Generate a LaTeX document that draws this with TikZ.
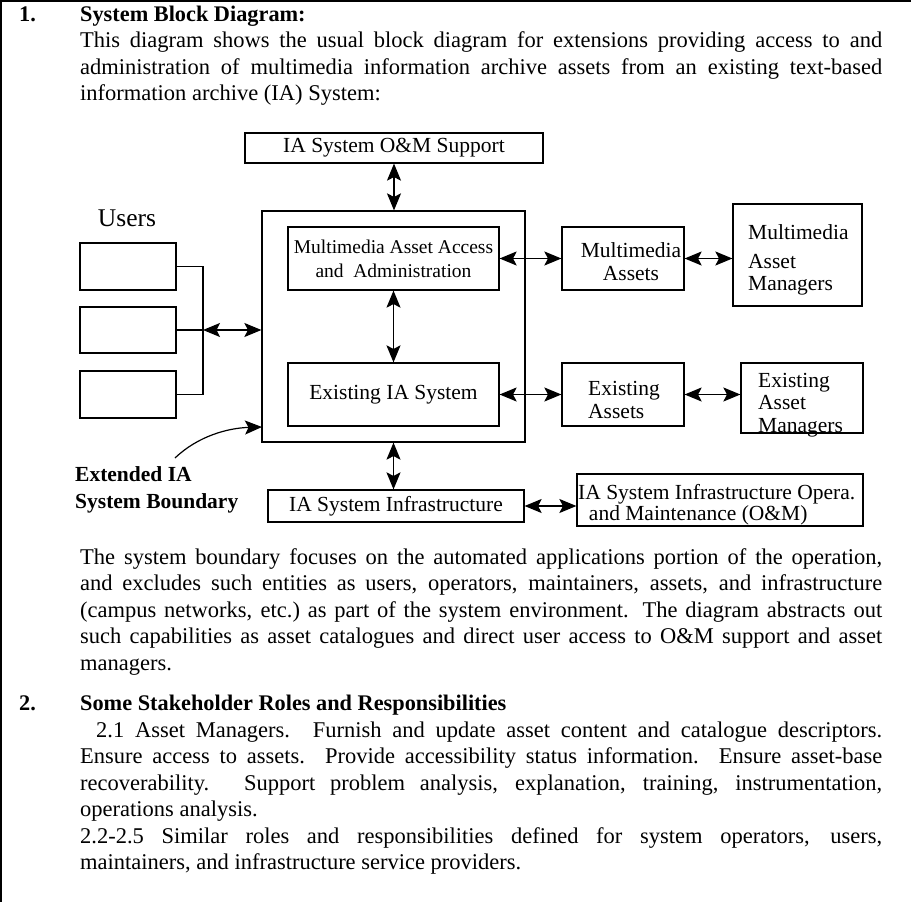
\documentclass[tikz,border=0pt]{standalone}
\usepackage{fontspec}
\setmainfont{Liberation Serif}
\usetikzlibrary{arrows.meta}
\setlength{\parindent}{0pt}
\begin{document}
\begin{tikzpicture}[x=1pt,y=-1pt,
  box/.style={draw, line width=1.2pt, inner sep=0pt, font=\fontsize{21.5}{23}\selectfont},
  lbl/.style={inner sep=0pt, font=\fontsize{21.5}{23}\selectfont},
  dbl/.style={line width=1.2pt, {Stealth[length=17pt,width=14pt,inset=3.5pt]}-{Stealth[length=17pt,width=14pt,inset=3.5pt]}},
  sgl/.style={line width=1.2pt, -{Stealth[length=17pt,width=14pt,inset=3.5pt]}},
  wire/.style={line width=1.2pt},
  body/.style={anchor=base west, inner sep=0pt, text width=802pt, align=justify, font=\fontsize{22.5}{26.5}\selectfont},
  head/.style={anchor=base west, inner sep=0pt, font=\fontsize{22.3}{26.5}\selectfont\bfseries}]
\useasboundingbox (0,0) rectangle (911,902);
\draw[line width=2.4pt] (1.2,902) -- (1.2,1.2) -- (911,1.2);

% section 1 text
\node[head] (n1) at (19,21) {1.};
\node[head] (t1) at (80,21) {System Block Diagram:};
\node[body] (p1) at (80,47.5) {This diagram shows the usual block diagram for extensions providing access to and\linebreak administration of multimedia information archive assets from an existing text-based\linebreak information archive (IA) System:};

% boxes
\node[box, minimum width=298pt, minimum height=30pt] (oms) at (394,148) {IA System O\&M Support};
\node[box, minimum width=263pt, minimum height=231pt] (big) at (393.5,326.5) {};
\node[box, minimum width=211pt, minimum height=63pt, align=center, font=\fontsize{19.5}{24}\selectfont] (maaa) at (393.5,258.5) {Multimedia Asset Access\\and\ \ Administration};
\node[box, minimum width=211pt, minimum height=63pt] (eia) at (393.5,394.5) {Existing IA System};
\node[box, minimum width=96pt, minimum height=47pt] (u1) at (128,266.5) {};
\node[box, minimum width=96pt, minimum height=46pt] (u2) at (128,330) {};
\node[box, minimum width=96pt, minimum height=47pt] (u3) at (128,394.5) {};
\node[lbl, font=\fontsize{25.5}{27}\selectfont] (users) at (127,218) {Users};
\node[box, minimum width=122pt, minimum height=63pt] (mma) at (623,258.5) {};
\node[lbl, align=center] (mmat) at (631,262) {Multimedia\\Assets};
\node[box, minimum width=129pt, minimum height=102pt] (mmm) at (797.5,255) {};
\node[lbl, align=left, anchor=west] (mmmt) at (748,260) {Multimedia\\[6pt]Asset\\[-1pt]Managers};
\node[box, minimum width=122pt, minimum height=63pt] (ea) at (623,394.5) {};
\node[lbl, align=left, anchor=west] (eat) at (588,400) {Existing\\Assets};
\node[box, minimum width=122pt, minimum height=70pt] (eam) at (802,398) {};
\node[lbl, align=left, anchor=west, font=\fontsize{21.5}{22.5}\selectfont] (eamt) at (758,405) {Existing\\Asset\\Managers};
\node[box, minimum width=256pt, minimum height=32pt] (infra) at (396,506) {IA System Infrastructure};
\node[box, minimum width=286pt, minimum height=52pt] (opera) at (720,500) {};
\node[lbl, align=left, anchor=west, font=\fontsize{21.5}{21}\selectfont] (operat) at (578,505) {IA System Infrastructure Opera.\\\ \ and Maintenance (O\&M)};
\node[lbl, align=left, anchor=west, font=\fontsize{21.5}{27}\selectfont\bfseries] (ext) at (75,489.5) {Extended IA\\System Boundary};

% connectors
\draw[dbl] (oms.south) -- (oms.south |- big.north);
\draw[dbl] (maaa.south) -- (eia.north);
\draw[dbl] (big.south) -- (big.south |- infra.north);
\draw[dbl] (maaa.east) -- (mma.west);
\draw[dbl] (mma.east) -- (mma.east -| mmm.west);
\draw[dbl] (eia.east) -- (ea.west);
\draw[dbl] (ea.east) -- (ea.east -| eam.west);
\draw[dbl] (infra.east) -- (infra.east -| opera.west);
\coordinate (busx) at (203,0);
\draw[wire] (u1.east) -- (u1.east -| busx) -- (u3.east -| busx) -- (u3.east);
\draw[wire] (u2.east) -- (u2.east -| busx);
\draw[dbl] (u2.east -| busx) -- (u2.east -| big.west);
\coordinate (cs) at (175,458);
\coordinate (ce) at (262,427);
\draw[sgl] (cs) .. controls (198,436) and (228,428) .. (ce);

% section 1 second text
\node[body] (p2) at (80,564) {The system boundary focuses on the automated applications portion of the operation,\linebreak and excludes such entities as users, operators, maintainers, assets, and infrastructure\linebreak (campus networks, etc.)\ as part of the system environment.  The diagram abstracts out\linebreak such capabilities as asset catalogues and direct user access to O\&M support and asset\linebreak managers.};

% section 2
\node[head] (n2) at (19,710) {2.};
\node[head] (t2) at (80,710) {Some Stakeholder Roles and Responsibilities};
\node[body] (p3) at (80,737) {\hspace*{16pt}2.1 Asset Managers.  Furnish and update asset content and catalogue descriptors.\linebreak Ensure access to assets.  Provide accessibility status information.  Ensure asset-base\linebreak recoverability.  Support problem analysis, explanation, training, instrumentation,\linebreak operations analysis.\\2.2-2.5 Similar roles and responsibilities defined for system operators, users,\linebreak maintainers, and infrastructure service providers.};
\end{tikzpicture}
\end{document}
